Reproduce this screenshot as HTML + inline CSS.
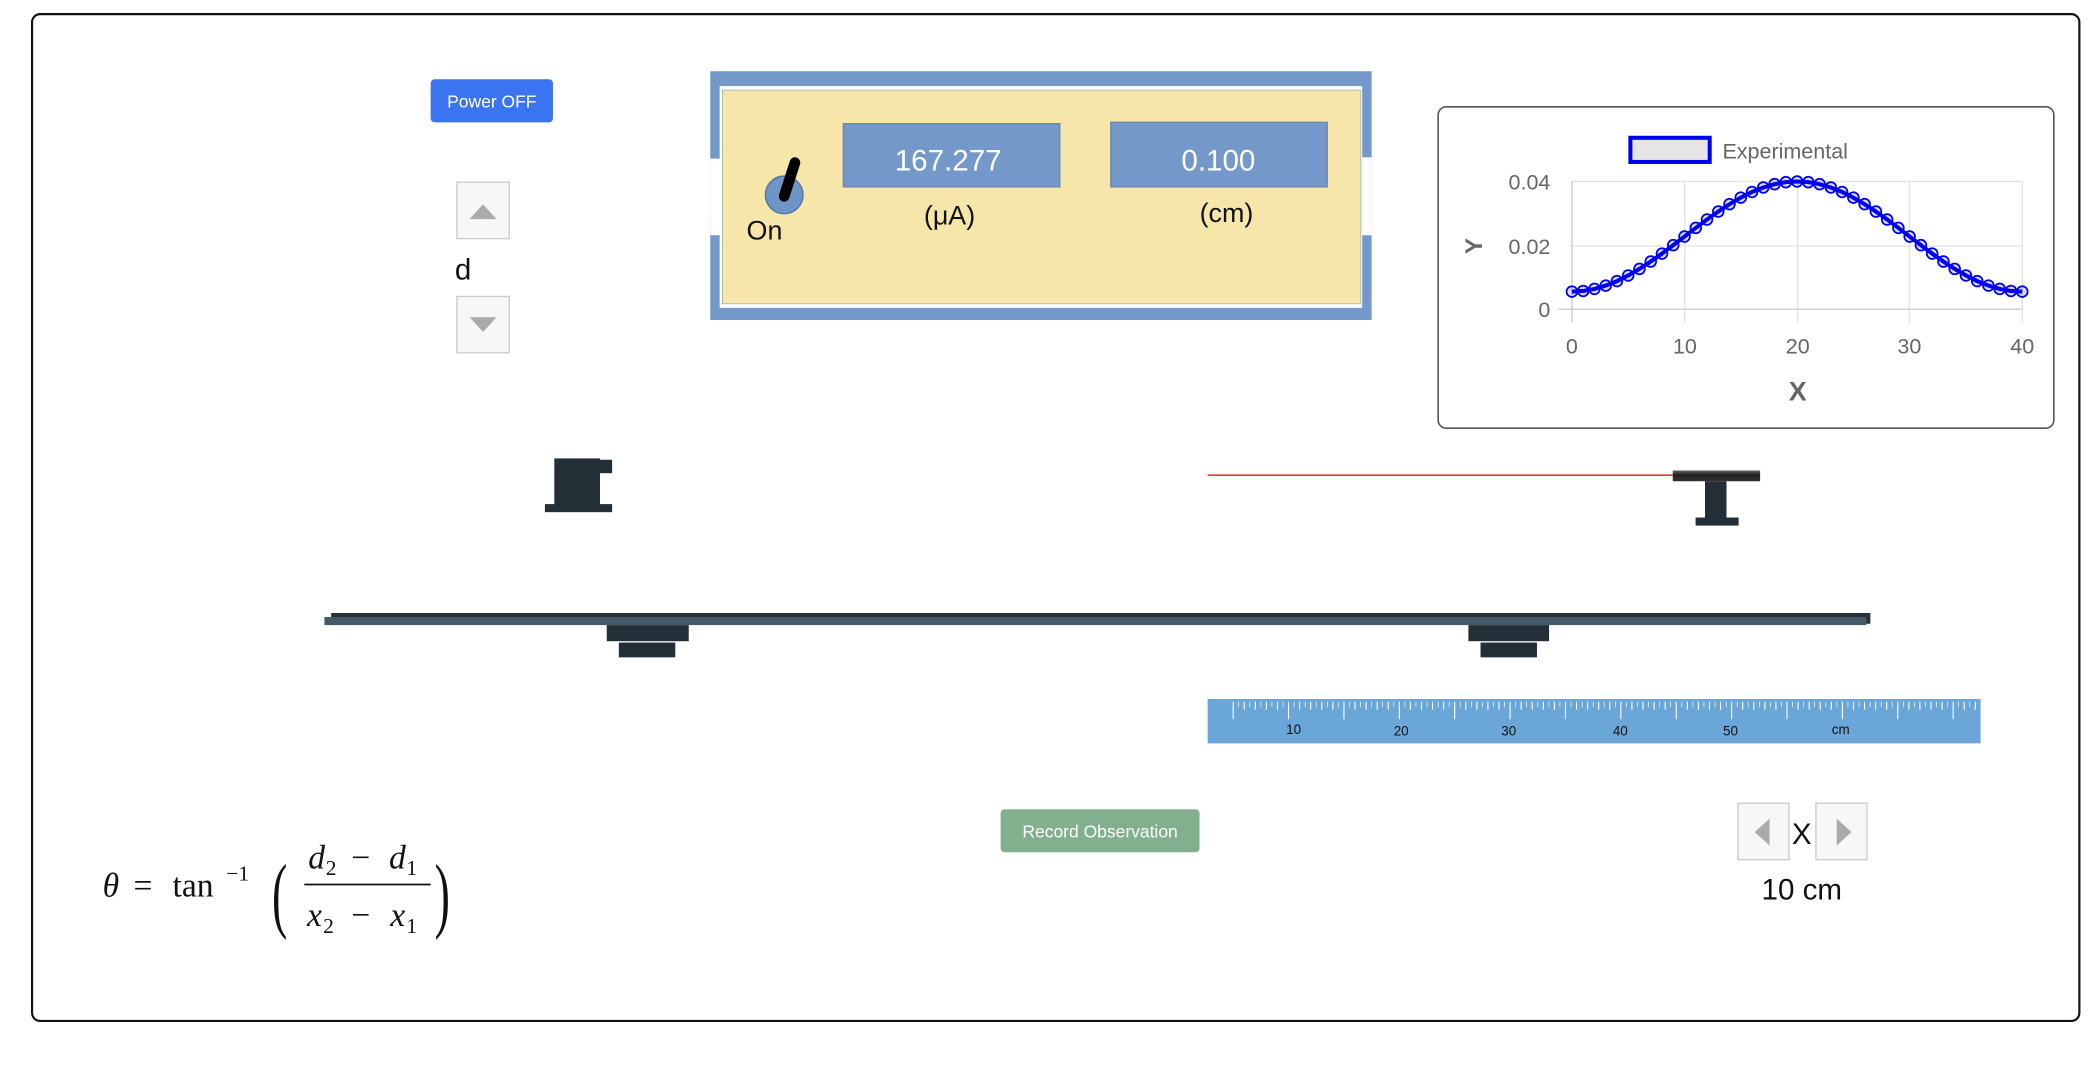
<!DOCTYPE html>
<html><head><meta charset="utf-8"><style>
html,body{margin:0;padding:0;background:#fff;width:2098px;height:1066px;overflow:hidden}
svg{display:block}
text{font-family:"Liberation Sans",sans-serif}
.f text{font-family:"Liberation Serif",serif}
</style></head><body>
<svg id="s" width="2098" height="1066" viewBox="0 0 1560 793" xmlns="http://www.w3.org/2000/svg">
<defs>
<linearGradient id="lg" x1="0" y1="0" x2="0" y2="1"><stop offset="0" stop-color="#666"/><stop offset="0.4" stop-color="#222"/><stop offset="1" stop-color="#333"/></linearGradient>
</defs>
<rect x="23.5" y="10.5" width="1523" height="749" rx="6" fill="#fff" stroke="#111" stroke-width="1.6"/>
<rect x="320" y="59" width="91" height="32" rx="3" fill="#3b74f0"/>
<text x="365.5" y="80" font-size="13" fill="#fff" text-anchor="middle">Power OFF</text>
<rect x="339.5" y="135.5" width="39" height="42" fill="#f7f7f7" stroke="#ccc"/>
<polygon points="349,163 369,163 359,152" fill="#aaa"/>
<text x="338" y="208" font-size="22" fill="#111">d</text>
<rect x="339.5" y="220.5" width="39" height="42" fill="#f7f7f7" stroke="#ccc"/>
<polygon points="349,236 369,236 359,247" fill="#aaa"/>
<rect x="528" y="53" width="492" height="185" fill="#7398c9"/>
<rect x="528" y="118" width="8" height="57" fill="#fff"/>
<rect x="1013" y="117" width="7" height="58" fill="#fff"/>
<rect x="535" y="64" width="478" height="165" fill="#fff"/>
<rect x="537" y="67" width="475" height="159" fill="#f6e6a9" stroke="#8aa" stroke-width="0.5"/>
<rect x="627" y="92" width="161" height="47" fill="#7398c9" stroke="#6688b5"/>
<rect x="826" y="91" width="161" height="48" fill="#7398c9" stroke="#6688b5"/>
<text x="705" y="127" font-size="22" fill="#fff" text-anchor="middle">167.277</text>
<text x="906" y="127" font-size="22" fill="#fff" text-anchor="middle">0.100</text>
<text x="706" y="167" font-size="20" fill="#111" text-anchor="middle">(μA)</text>
<text x="912" y="165" font-size="20" fill="#111" text-anchor="middle">(cm)</text>
<ellipse cx="583" cy="145" rx="14" ry="14" fill="#6f95c8" stroke="#4e74a8"/>
<line x1="583" y1="146" x2="591" y2="121" stroke="#000" stroke-width="8" stroke-linecap="round"/>
<text x="555" y="178" font-size="20" fill="#111">On</text>
<rect x="1069.5" y="79.5" width="458" height="239" rx="6" fill="#fff" stroke="#555" stroke-width="1.2"/>
<g stroke="#e2e2e2" stroke-width="1">
<line x1="1169" y1="135" x2="1504" y2="135"/><line x1="1169" y1="183" x2="1504" y2="183"/>
<line x1="1159" y1="230" x2="1504" y2="230" stroke="#ccc"/>
<line x1="1169" y1="135" x2="1169" y2="240" stroke="#ccc"/><line x1="1253" y1="135" x2="1253" y2="240"/>
<line x1="1337" y1="135" x2="1337" y2="240"/><line x1="1420" y1="135" x2="1420" y2="240"/><line x1="1504" y1="135" x2="1504" y2="240"/>
</g>
<rect x="1212.5" y="102.5" width="59" height="18" fill="#e5e5e5" stroke="#0000ee" stroke-width="3"/>
<text x="1281" y="118" font-size="16" fill="#666">Experimental</text>
<g font-size="16" fill="#666" text-anchor="end">
<text x="1153" y="141">0.04</text><text x="1153" y="189">0.02</text><text x="1153" y="236">0</text>
</g>
<g font-size="16" fill="#666" text-anchor="middle">
<text x="1169" y="263">0</text><text x="1253" y="263">10</text><text x="1337" y="263">20</text><text x="1420" y="263">30</text><text x="1504" y="263">40</text>
</g>
<text x="1337" y="298" font-size="20" font-weight="bold" fill="#666" text-anchor="middle">X</text>
<text x="0" y="0" font-size="18" font-weight="bold" fill="#666" text-anchor="middle" transform="translate(1102,183) rotate(-90)">Y</text>
<g id="curve"></g>
<rect x="412" y="341" width="34" height="35" fill="#232f36"/>
<rect x="446" y="342" width="9" height="10" fill="#232f36"/>
<rect x="405" y="375" width="50" height="6" fill="#232f36"/>
<line x1="898" y1="353.5" x2="1244" y2="353.5" stroke="#e53935" stroke-width="1.2"/>
<rect x="1244" y="350" width="65" height="8" fill="url(#lg)"/>
<rect x="1268" y="358" width="16" height="28" fill="#232f36"/>
<rect x="1261" y="385" width="32" height="6" fill="#232f36"/>
<rect x="246" y="456" width="1145" height="8" fill="#263238"/>
<rect x="241" y="459" width="1147" height="6" fill="#455a64"/>
<rect x="451" y="465" width="61" height="12" fill="#232f36"/>
<rect x="460" y="478" width="42" height="11" fill="#232f36"/>
<rect x="1092" y="465" width="60" height="12" fill="#232f36"/>
<rect x="1101" y="478" width="42" height="11" fill="#232f36"/>
<rect x="898" y="520" width="575" height="33" fill="#6aa6d8"/>
<g id="ticks" stroke="#fff" stroke-width="0.8"></g>
<g font-size="10" fill="#111" text-anchor="middle">
<text x="962" y="546">10</text><text x="1042" y="547">20</text><text x="1122" y="547">30</text><text x="1205" y="547">40</text><text x="1287" y="547">50</text><text x="1369" y="546">cm</text>
</g>
<rect x="744" y="602" width="148" height="32" rx="3" fill="#82b08f"/>
<text x="818" y="623" font-size="13" fill="#fff" text-anchor="middle">Record Observation</text>
<rect x="1292.5" y="597.5" width="38" height="42" fill="#f7f7f7" stroke="#ccc"/>
<polygon points="1316,609 1316,629 1305,619" fill="#aaa"/>
<rect x="1350.5" y="597.5" width="38" height="42" fill="#f7f7f7" stroke="#ccc"/>
<polygon points="1366,609 1366,629 1377,619" fill="#aaa"/>
<text x="1340" y="628" font-size="22" fill="#111" text-anchor="middle">X</text>
<text x="1340" y="669" font-size="22" fill="#111" text-anchor="middle">10 cm</text>
<g class="f" fill="#111">
<text x="76" y="667" font-size="25" font-style="italic">θ</text>
<text x="99" y="667" font-size="25">=</text>
<text x="128" y="667" font-size="25">tan</text>
<text x="168" y="655" font-size="16">−1</text>
<text x="0" y="0" font-size="62" transform="translate(202,686) scale(0.55,1)">(</text>
<text x="229" y="646" font-size="25" font-style="italic">d</text><text x="242" y="651" font-size="16">2</text>
<text x="261" y="646" font-size="25">−</text>
<text x="289" y="646" font-size="25" font-style="italic">d</text><text x="302" y="651" font-size="16">1</text>
<line x1="226" y1="658" x2="320" y2="658" stroke="#111" stroke-width="1.3"/>
<text x="228" y="689" font-size="25" font-style="italic">x</text><text x="240" y="694" font-size="16">2</text>
<text x="261" y="689" font-size="25">−</text>
<text x="290" y="689" font-size="25" font-style="italic">x</text><text x="302" y="694" font-size="16">1</text>
<text x="0" y="0" font-size="62" transform="translate(323,686) scale(0.55,1)">)</text>
</g>
</svg>
<script>
var NS="http://www.w3.org/2000/svg";
var g=document.getElementById("curve");
function X(x){return 1169+x*(335/40);}
function Y(v){return 230-v*(95/0.04);}
var d="";
for(var i=0;i<=40;i++){var c=Math.cos(Math.PI*(i-20)/40);var v=0.0055+0.0345*c*c;d+=(i?"L":"M")+X(i)+","+Y(v);}
var p=document.createElementNS(NS,"path");p.setAttribute("d",d);p.setAttribute("fill","none");p.setAttribute("stroke","#0000ee");p.setAttribute("stroke-width","3");g.appendChild(p);
for(var i=0;i<=40;i++){var c=Math.cos(Math.PI*(i-20)/40);var v=0.0055+0.0345*c*c;var e=document.createElementNS(NS,"circle");e.setAttribute("cx",X(i));e.setAttribute("cy",Y(v));e.setAttribute("r","4");e.setAttribute("fill","rgba(0,0,238,0.15)");e.setAttribute("stroke","#0000ee");e.setAttribute("stroke-width","1.3");g.appendChild(e);}
var t=document.getElementById("ticks");
for(var k=0;k<=70;k++){var x=917+k*8.24;if(x>1471)break;var h=(k%5==0)?(k%10==0?13:13):(k%1==0?6:4);var l=document.createElementNS(NS,"line");l.setAttribute("x1",x);l.setAttribute("x2",x);l.setAttribute("y1",522);l.setAttribute("y2",522+h);t.appendChild(l);}
for(var k=0;k<=140;k++){var x=917+k*4.12;if(x>1471)break;if(k%2==0)continue;var l=document.createElementNS(NS,"line");l.setAttribute("x1",x);l.setAttribute("x2",x);l.setAttribute("y1",522);l.setAttribute("y2",526);l.setAttribute("stroke-width","0.5");t.appendChild(l);}
</script>
</body></html>
